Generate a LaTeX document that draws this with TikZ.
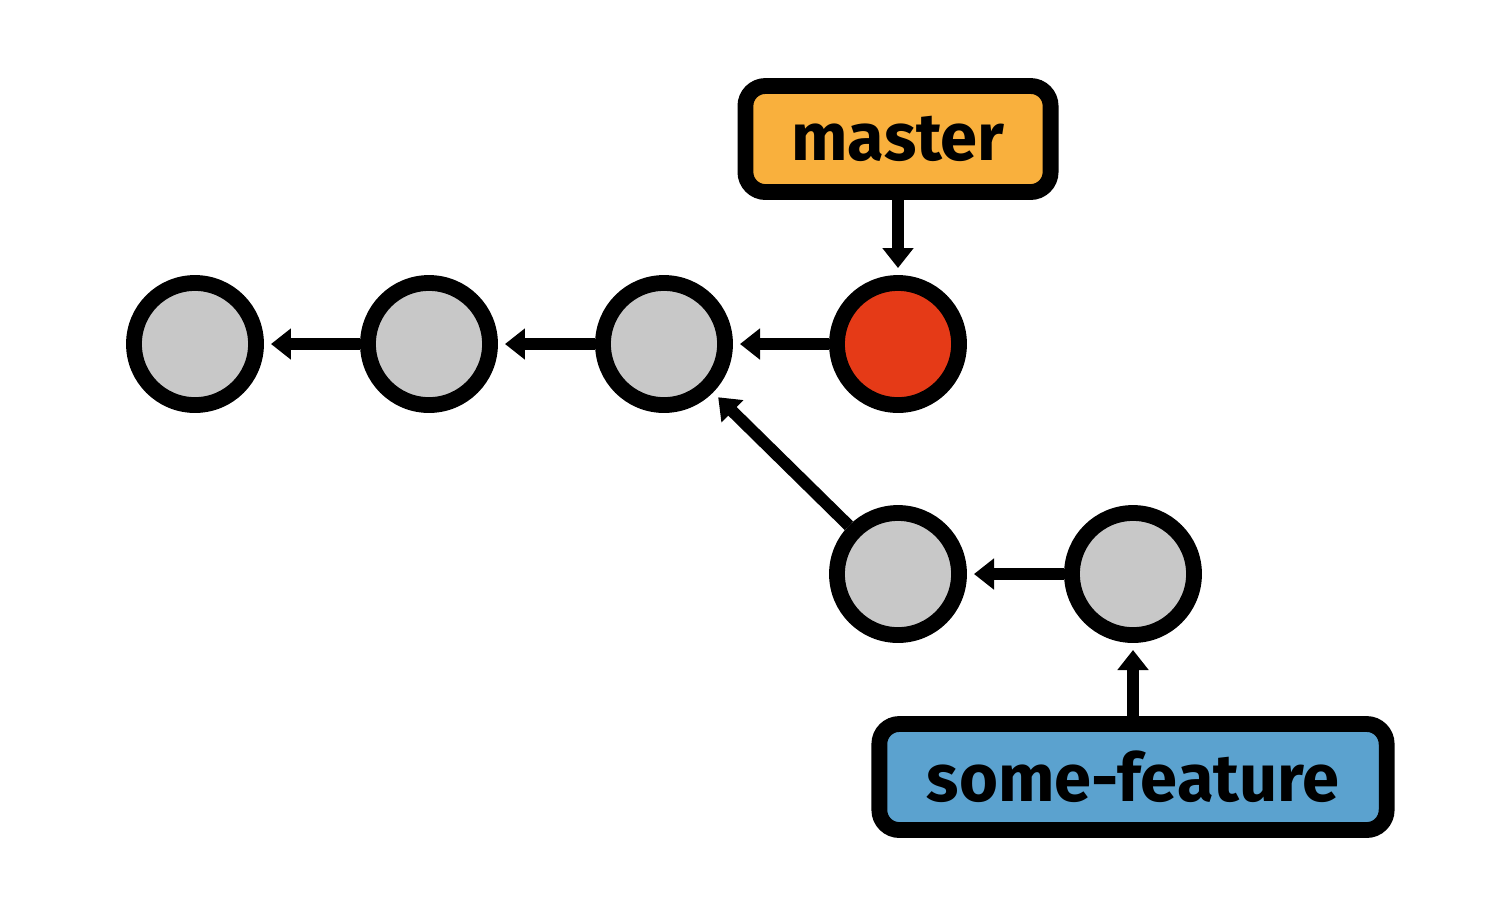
\documentclass[tikz,border=0pt]{standalone}
\usepackage{fontspec}
\setmainfont{Fira Sans}
\usetikzlibrary{arrows.meta}
\definecolor{cgray}{HTML}{C8C8C8}
\definecolor{cred}{HTML}{E53A17}
\definecolor{corange}{HTML}{F9B03D}
\definecolor{cblue}{HTML}{5BA2CF}
\begin{document}
\begin{tikzpicture}[x=0.01cm,y=-0.01cm,
  commit/.style={circle,draw=black,line width=4.5pt,fill=cgray,minimum size=1.22cm,inner sep=0pt},
  branch/.style={draw=black,line width=4.5pt,rounded corners=0.2cm,font=\fontsize{19}{22}\selectfont\bfseries,inner sep=0pt},
  link/.style={line width=3.4pt,-{Triangle[length=0.2cm,width=0.3cm]},shorten >=2pt}]
\useasboundingbox (0,0) rectangle (1500,917);
\node[commit] (c1) at (195,344) {};
\node[commit] (c2) at (429,344) {};
\node[commit] (c3) at (664,344) {};
\node[commit,fill=cred] (c4) at (898,344) {};
\node[commit] (f1) at (898,574) {};
\node[commit] (f2) at (1133,574) {};
\node[branch,fill=corange,minimum width=3.05cm,minimum height=1.06cm] (m) at (898,139) {master};
\node[branch,fill=cblue,minimum width=5.07cm,minimum height=1.06cm] (s) at (1133,777) {some-feature};
\draw[link] (c2) -- (c1);
\draw[link] (c3) -- (c2);
\draw[link] (c4) -- (c3);
\draw[link] (f2) -- (f1);
\draw[link] (f1) -- (c3);
\draw[link] (m) -- (c4);
\draw[link] (s) -- (f2);
\end{tikzpicture}
\end{document}
